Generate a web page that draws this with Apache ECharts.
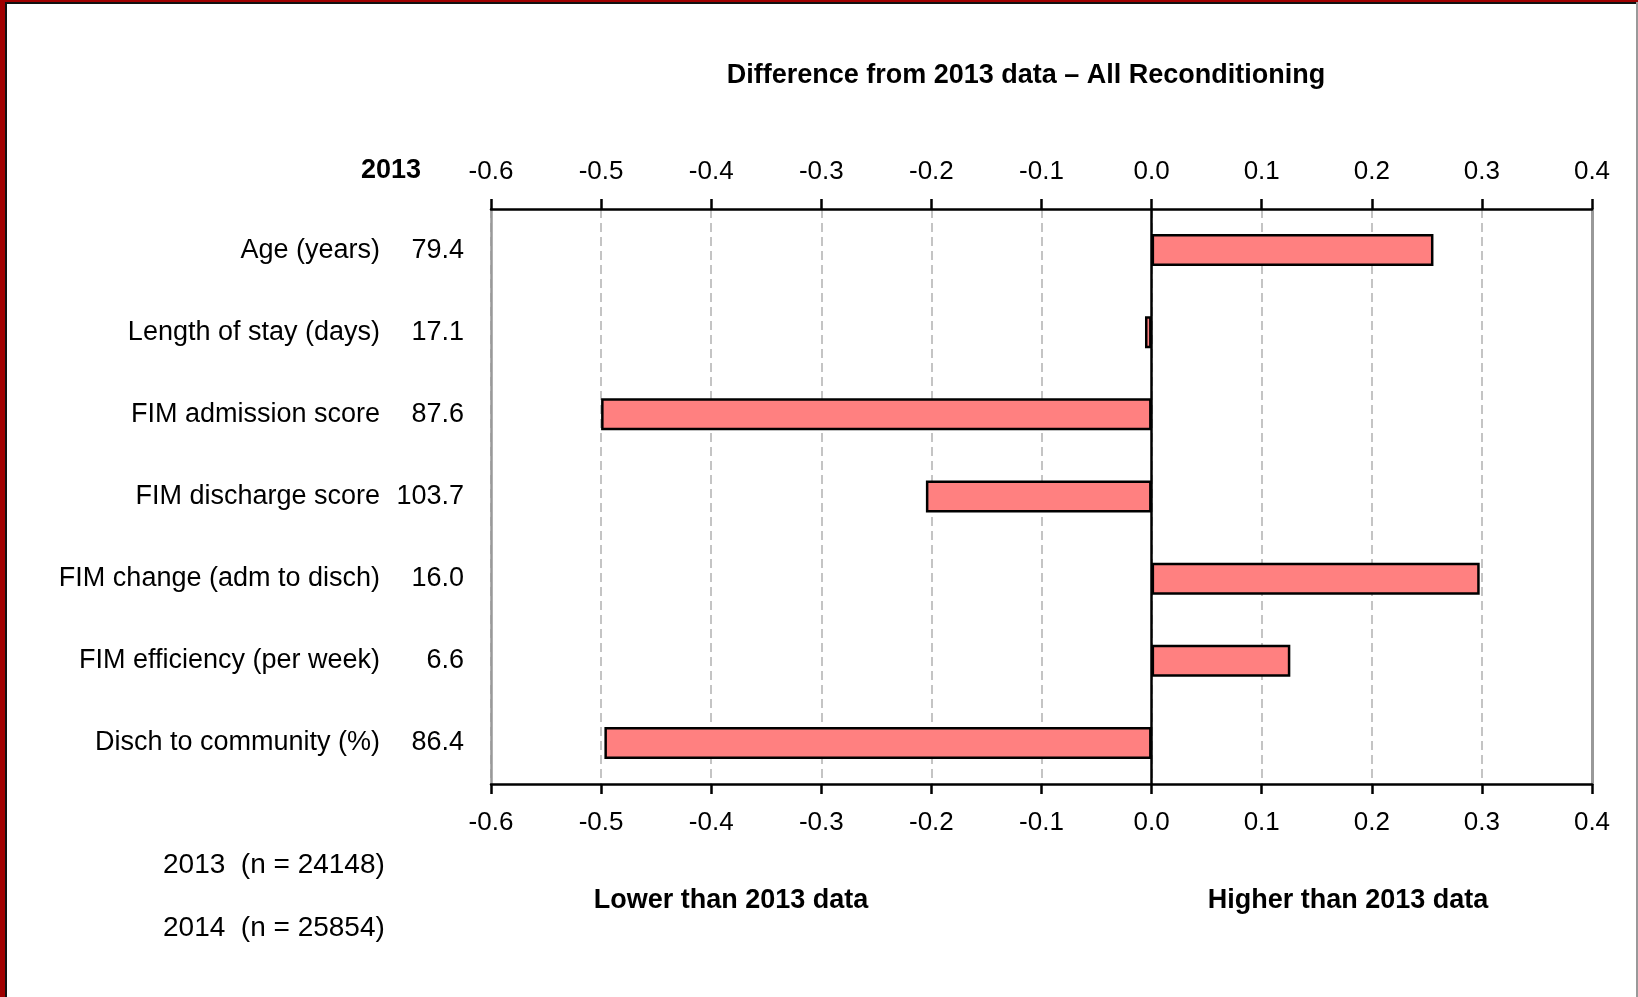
<!DOCTYPE html>
<html>
<head>
<meta charset="utf-8">
<script src="https://cdn.jsdelivr.net/npm/echarts@6/dist/echarts.min.js"></script>
<style>
  html, body { margin: 0; padding: 0; background: #fff; }
  #dom { width: 1638px; height: 997px; }
</style>
</head>
<body>
<div id="dom"></div>
<script>
// 数据
var categories = ['Age (years)', 'Length of stay (days)', 'FIM admission score', 'FIM discharge score',
  'FIM change (adm to disch)', 'FIM efficiency (per week)', 'Disch to community (%)'];
var values2013 = ['79.4', '17.1', '87.6', '103.7', '16.0', '6.6', '86.4'];
var diffs = [0.256, -0.006, -0.500, -0.205, 0.298, 0.126, -0.497];
var sampleNotes = ['2013  (n = 24148)', '2014  (n = 25854)'];

var FONT = "'Liberation Sans', Arial, sans-serif";

var myChart = echarts.init(document.getElementById('dom'));

function xAxisCfg(pos, showSplit, margin) {
  return {
    type: 'value',
    position: pos,
    min: -0.6,
    max: 0.4,
    interval: 0.1,
    axisLine: { show: true, onZero: false, lineStyle: { color: '#000', width: 2.5 } },
    axisTick: { show: true, length: 10, lineStyle: { color: '#000', width: 2.5 } },
    axisLabel: {
      margin: margin,
      fontFamily: FONT,
      fontSize: 26,
      color: '#000',
      formatter: function (v) { return (Math.round(v * 10) / 10).toFixed(1); }
    },
    splitLine: {
      show: showSplit,
      lineStyle: { color: '#c4c4c4', width: 2, type: [9, 5] }
    }
  };
}

var option = {
  animation: false,
  grid: { left: 491, right: 46, top: 209, bottom: 213 },
  xAxis: [xAxisCfg('top', true, 24), xAxisCfg('bottom', false, 26)],
  yAxis: [{
    type: 'category',
    inverse: true,
    position: 'left',
    data: categories,
    axisLine: { show: true, onZero: false, lineStyle: { color: '#999', width: 2.5 } },
    axisTick: { show: false },
    axisLabel: {
      margin: 27,
      fontFamily: FONT,
      fontSize: 27,
      color: '#000',
      formatter: function (value, index) {
        return '{n|' + value + '}{v|' + values2013[index] + '}';
      },
      rich: {
        n: { width: 330, align: 'right', fontFamily: FONT, fontSize: 27, color: '#000' },
        v: { width: 84, align: 'right', fontFamily: FONT, fontSize: 27, color: '#000' }
      }
    }
  }, {
    type: 'category',
    inverse: true,
    position: 'right',
    data: categories,
    axisLine: { show: true, onZero: false, lineStyle: { color: '#999', width: 3 } },
    axisTick: { show: false },
    axisLabel: { show: false }
  }],
  series: [{
    type: 'bar',
    xAxisIndex: 0,
    yAxisIndex: 0,
    barWidth: 32,
    data: diffs,
    itemStyle: { color: '#ff8080', borderColor: '#000', borderWidth: 2.5 },
    markLine: {
      silent: true,
      symbol: 'none',
      label: { show: false },
      lineStyle: { color: '#000', width: 2.5, type: 'solid' },
      data: [{ xAxis: 0 }]
    }
  }],
  graphic: [
    // 边框
    { type: 'rect', shape: { x: 0, y: 0, width: 5, height: 997 }, style: { fill: '#a00000' } },
    { type: 'rect', shape: { x: 0, y: 0, width: 1638, height: 2 }, style: { fill: '#a00000' } },
    { type: 'rect', shape: { x: 5, y: 2, width: 2, height: 995 }, style: { fill: '#111' } },
    { type: 'rect', shape: { x: 5, y: 2, width: 1633, height: 2 }, style: { fill: '#111' } },
    { type: 'rect', shape: { x: 1636, y: 2, width: 2, height: 995 }, style: { fill: '#999' } },
    // 文字
    { type: 'text', x: 1026, y: 76, style: { text: 'Difference from 2013 data \u2013 All Reconditioning',
        font: 'bold 27px ' + FONT, fill: '#000', align: 'center', verticalAlign: 'middle' } },
    { type: 'text', x: 421, y: 171, style: { text: '2013', font: 'bold 27px ' + FONT,
        fill: '#000', align: 'right', verticalAlign: 'middle' } },
    { type: 'text', x: 731, y: 901, style: { text: 'Lower than 2013 data', font: 'bold 27px ' + FONT,
        fill: '#000', align: 'center', verticalAlign: 'middle' } },
    { type: 'text', x: 1348, y: 901, style: { text: 'Higher than 2013 data', font: 'bold 27px ' + FONT,
        fill: '#000', align: 'center', verticalAlign: 'middle' } },
    { type: 'text', x: 163, y: 865, style: { text: sampleNotes[0], font: '28px ' + FONT,
        fill: '#000', align: 'left', verticalAlign: 'middle' } },
    { type: 'text', x: 163, y: 928, style: { text: sampleNotes[1], font: '28px ' + FONT,
        fill: '#000', align: 'left', verticalAlign: 'middle' } }
  ]
};
myChart.setOption(option);
</script>
</body>
</html>
